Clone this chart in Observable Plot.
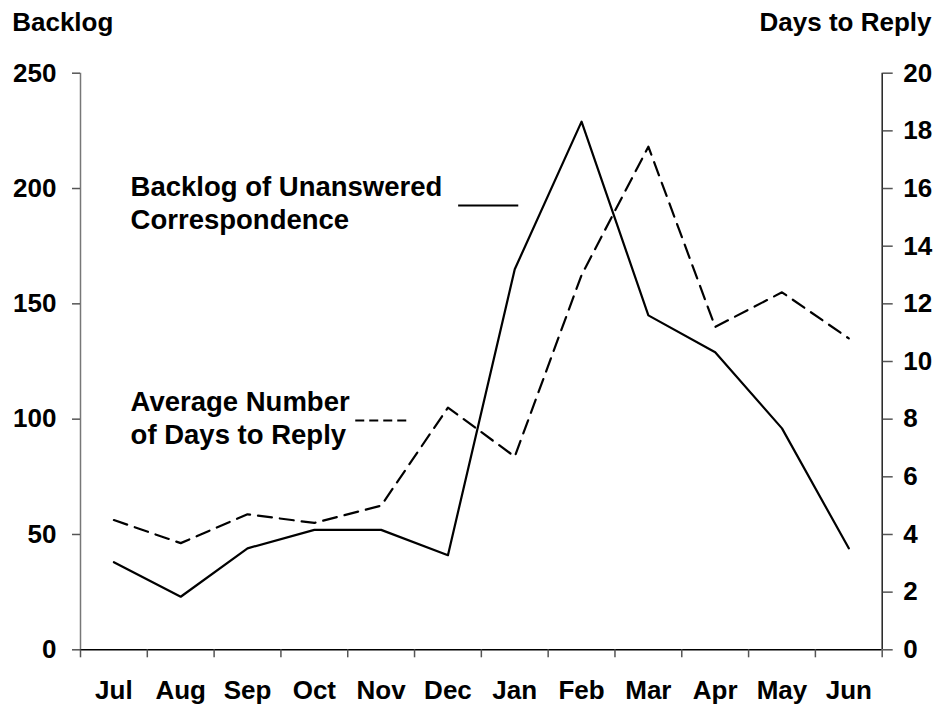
<!DOCTYPE html>
<html>
<head>
<meta charset="utf-8">
<script src="https://cdn.jsdelivr.net/npm/d3@7"></script>
<script src="https://cdn.jsdelivr.net/npm/@observablehq/plot@0.6"></script>
<style>
  html, body { margin: 0; padding: 0; background: #fff; }
  #chart { width: 943px; height: 704px; }
</style>
</head>
<body>
<div id="chart"></div>
<script>
const months = ["Jul", "Aug", "Sep", "Oct", "Nov", "Dec", "Jan", "Feb", "Mar", "Apr", "May", "Jun"];
const backlog = [38, 23, 44, 52, 52, 41, 165, 229, 145, 129, 96, 44];
const daysToReply = [4.5, 3.7, 4.7, 4.4, 5.0, 8.4, 6.7, 13.0, 17.45, 11.2, 12.4, 10.8];
const leftTicks = [0, 50, 100, 150, 200, 250];
const rightTicks = [0, 2, 4, 6, 8, 10, 12, 14, 16, 18, 20];
const leftTitle = "Backlog";
const rightTitle = "Days to Reply";
const legendBacklog = "Backlog of Unanswered\nCorrespondence";
const legendDays = "Average Number\nof Days to Reply";

const ratio = 250 / 20; // right axis (days) mapped onto left axis (backlog)
const backlogData = months.map((m, i) => ({i: i + 0.5, v: backlog[i]}));
const daysData = months.map((m, i) => ({i: i + 0.5, v: daysToReply[i] * ratio}));

const fam = "'Liberation Sans', Arial, sans-serif";
const font = {fontFamily: fam, fontSize: 26, fontWeight: "bold", fill: "#000"};
const legendFont = {fontFamily: fam, fontSize: 27.5, fontWeight: "bold", fill: "#000"};

const chart = Plot.plot({
  width: 943,
  height: 704,
  marginLeft: 80,
  marginRight: 61.3,
  marginTop: 72.7,
  marginBottom: 54.7,
  style: {fontFamily: fam, fontSize: "26px", fontWeight: "bold", color: "#000", background: "#fff"},
  x: {type: "linear", domain: [0, 12]},
  y: {type: "linear", domain: [0, 250]},
  marks: [
    // axis lines
    Plot.ruleX([0], {stroke: "#777", strokeWidth: 1.5}),
    Plot.ruleX([12], {stroke: "#222", strokeWidth: 1.5}),
    Plot.ruleY([0], {stroke: "#000", strokeWidth: 1.5}),
    // left axis
    Plot.axisY({anchor: "left", ticks: leftTicks, tickSize: 8, tickPadding: 16, label: null, stroke: "#555", strokeWidth: 1.5, ...font}),
    // right axis (days to reply)
    Plot.axisY({anchor: "right", ticks: rightTicks.map(d => d * ratio), tickFormat: d => String(Math.round(d / ratio)), tickSize: 10, tickPadding: 11, label: null, stroke: "#555", strokeWidth: 1.5, ...font}),
    // x ticks at band boundaries
    Plot.axisX({anchor: "bottom", ticks: d3.range(0, 13), tickFormat: () => "", tickSize: 8, label: null, stroke: "#555", strokeWidth: 1.5}),
    // month labels centred in bands
    Plot.axisX({anchor: "bottom", ticks: months.map((m, i) => i + 0.5), tickFormat: d => months[Math.floor(d)], tickSize: 0, tickPadding: 31, label: null, ...font}),
    // data lines
    Plot.line(backlogData, {x: "i", y: "v", stroke: "#000", strokeWidth: 2.2}),
    Plot.line(daysData, {x: "i", y: "v", stroke: "#000", strokeWidth: 2.2, strokeDasharray: "14,8"}),
    // in-chart labels
    Plot.text([legendBacklog], {x: 0.75, y: 207, text: d => d, textAnchor: "start", lineAnchor: "top", lineHeight: 1.2, ...legendFont}),
    Plot.ruleY([192.6], {x1: 5.66, x2: 6.56, stroke: "#000", strokeWidth: 2}),
    Plot.text([legendDays], {x: 0.75, y: 113.5, text: d => d, textAnchor: "start", lineAnchor: "top", lineHeight: 1.2, ...legendFont}),
    Plot.ruleY([99.4], {x1: 4.12, x2: 4.94, stroke: "#000", strokeWidth: 2, strokeDasharray: "9,5"}),
    // axis titles
    Plot.text([leftTitle], {frameAnchor: "top-left", dx: -68.3, dy: -41.7, text: d => d, textAnchor: "start", lineAnchor: "bottom", ...font}),
    Plot.text([rightTitle], {frameAnchor: "top-right", dx: 49.3, dy: -41.7, text: d => d, textAnchor: "end", lineAnchor: "bottom", ...font})
  ]
});
document.getElementById("chart").appendChild(chart);
</script>
</body>
</html>
